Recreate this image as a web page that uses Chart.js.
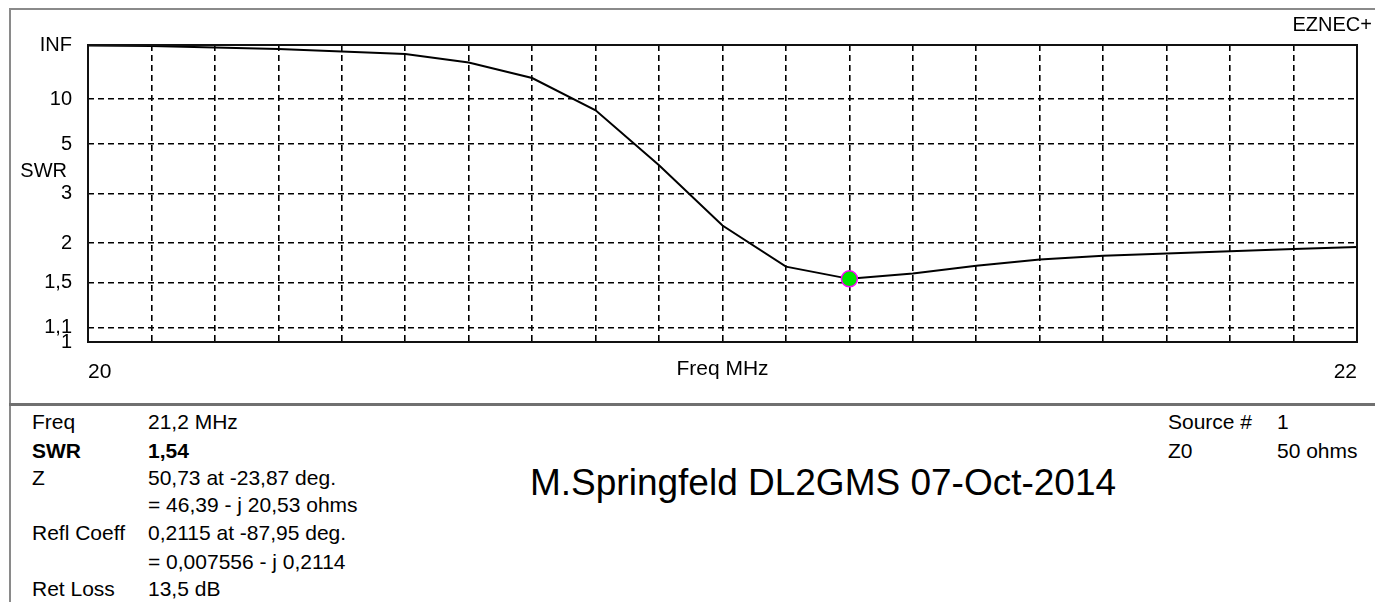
<!DOCTYPE html>
<html>
<head>
<meta charset="utf-8">
<script src="https://cdn.jsdelivr.net/npm/chart.js@4.4.1/dist/chart.umd.min.js"></script>
<style>
  body { margin: 0; background: #fff; }
  #page { position: relative; width: 1375px; height: 602px; overflow: hidden;
          font-family: "Liberation Sans", Arial, sans-serif; font-size: 21px; color: #000; }
  #frameTop { position: absolute; left: 9px; top: 8px; width: 1366px; height: 2px; background: #8a8a8a; }
  #frameLeft { position: absolute; left: 9px; top: 8px; width: 2px; height: 594px; background: #8a8a8a; }
  #divider { position: absolute; left: 9px; top: 403px; width: 1366px; height: 3px; background: #707070; }
  #chartBox { position: absolute; left: 0; top: 0; width: 1375px; height: 400px; }
  .t { position: absolute; white-space: nowrap; line-height: 28px; }
  .b { font-weight: bold; }
</style>
</head>
<body>
<div id="page">
  <div id="chartBox"><canvas id="swrChart"></canvas></div>
  <div id="frameTop"></div>
  <div id="frameLeft"></div>
  <div id="divider"></div>

  <div class="t" style="right:3px; top:10px; font-size:20px;">EZNEC+</div>
  <div class="t" style="right:1308px; top:156px; font-size:20px;">SWR</div>

  <div class="t" style="left:32px; top:408px;">Freq</div>
  <div class="t" style="left:148px; top:408px;">21,2 MHz</div>
  <div class="t b" style="left:32px; top:437px;">SWR</div>
  <div class="t b" style="left:148px; top:437px;">1,54</div>
  <div class="t" style="left:32px; top:464px;">Z</div>
  <div class="t" style="left:148px; top:464px;">50,73 at -23,87 deg.</div>
  <div class="t" style="left:148px; top:491px;">= 46,39 - j 20,53 ohms</div>
  <div class="t" style="left:32px; top:519px;">Refl Coeff</div>
  <div class="t" style="left:148px; top:519px;">0,2115 at -87,95 deg.</div>
  <div class="t" style="left:148px; top:548px;">= 0,007556 - j 0,2114</div>
  <div class="t" style="left:32px; top:575px;">Ret Loss</div>
  <div class="t" style="left:148px; top:575px;">13,5 dB</div>

  <div class="t" style="left:1168px; top:408px;">Source #</div>
  <div class="t" style="left:1277px; top:408px;">1</div>
  <div class="t" style="left:1168px; top:437px;">Z0</div>
  <div class="t" style="left:1277px; top:437px;">50 ohms</div>

  <div class="t" style="left:530px; top:463px; font-size:37px; line-height:40px;">M.Springfeld DL2GMS 07-Oct-2014</div>
</div>

<script>
// SWR sweep, 0.1 MHz steps
const freqMHz = [20.0, 20.1, 20.2, 20.3, 20.4, 20.5, 20.6, 20.7, 20.8, 20.9, 21.0,
                 21.1, 21.2, 21.3, 21.4, 21.5, 21.6, 21.7, 21.8, 21.9, 22.0];
const swrValues = [1200, 590, 240, 150, 90, 65, 33, 17, 8.1, 3.94, 2.29,
                   1.68, 1.54, 1.6, 1.69, 1.77, 1.82, 1.85, 1.88, 1.91, 1.94];
const cursorFreq = 21.2;

// y axis ticks (EZNEC scale is linear in reflection coefficient)
const yTickSwr = [Infinity, 10, 5, 3, 2, 1.5, 1.1, 1];
const yTickLabels = ["INF", "10", "5", "3", "2", "1,5", "1,1", "1"];

// x axis
const xTickFreqs = [20, 22];
const xTickLabels = ["20", "22"];
const xGridStep = 0.1;

function toRho(swr) {
    if (!isFinite(swr)) return 1;
    return (swr - 1) / (swr + 1);
}

const cursorIdx = freqMHz.findIndex(f => Math.abs(f - cursorFreq) < 1e-6);

Chart.defaults.font.family = '"Liberation Sans", Arial, sans-serif';
Chart.defaults.font.size = 20;
Chart.defaults.color = "#000";

const plotFrame = {
    id: "plotFrame",
    afterDraw(chart) {
        const { ctx, chartArea: a } = chart;
        ctx.save();
        ctx.strokeStyle = "#111";
        ctx.lineWidth = 2;
        ctx.strokeRect(a.left, a.top, a.right - a.left, a.bottom - a.top);
        ctx.restore();
    }
};

new Chart(document.getElementById("swrChart"), {
    type: "line",
    data: {
        datasets: [{
            data: freqMHz.map((f, i) => ({ x: f, y: toRho(swrValues[i]) })),
            borderColor: "#000",
            borderWidth: 2,
            tension: 0,
            pointRadius: freqMHz.map((f, i) => i === cursorIdx ? 8 : 0),
            pointBackgroundColor: "#00e600",
            pointBorderColor: "#ff00ff",
            pointBorderWidth: 1.5
        }]
    },
    options: {
        responsive: true,
        maintainAspectRatio: false,
        animation: false,
        layout: { padding: { left: 0, right: 18, top: 45, bottom: 0 } },
        plugins: {
            legend: { display: false },
            tooltip: { enabled: false }
        },
        scales: {
            x: {
                type: "linear",
                min: 20,
                max: 22,
                afterFit: (s) => { s.height = 58; },
                afterBuildTicks: (s) => {
                    const ticks = [];
                    const n = Math.round((s.max - s.min) / xGridStep);
                    for (let k = 0; k <= n; k++) ticks.push({ value: s.min + k * xGridStep });
                    s.ticks = ticks;
                },
                ticks: {
                    autoSkip: false,
                    maxRotation: 0,
                    align: "inner",
                    padding: 18,
                    font: { size: 21 },
                    callback: (v) => {
                        const j = xTickFreqs.findIndex(f => Math.abs(f - v) < 1e-6);
                        return j >= 0 ? xTickLabels[j] : "";
                    }
                },
                grid: {
                    drawTicks: false,
                    color: (c) => (c.index === 0 || c.index === 20) ? "rgba(0,0,0,0)" : "#000",
                    lineWidth: 1.6
                },
                border: { display: false, dash: [6, 4] },
                title: {
                    display: true,
                    text: "Freq MHz",
                    font: { size: 21 },
                    padding: { top: 0, bottom: 18 }
                }
            },
            y: {
                type: "linear",
                min: 0,
                max: 1,
                afterFit: (s) => { s.width = 88; },
                afterBuildTicks: (s) => {
                    s.ticks = yTickSwr.map(v => ({ value: toRho(v) }));
                },
                ticks: {
                    autoSkip: false,
                    padding: 16,
                    callback: (v, i) => yTickLabels[i]
                },
                grid: {
                    drawTicks: false,
                    color: (c) => (c.tick && (c.tick.value === 0 || c.tick.value === 1)) ? "rgba(0,0,0,0)" : "#000",
                    lineWidth: 1.6
                },
                border: { display: false, dash: [6, 4] }
            }
        }
    },
    plugins: [plotFrame]
});
</script>
</body>
</html>
